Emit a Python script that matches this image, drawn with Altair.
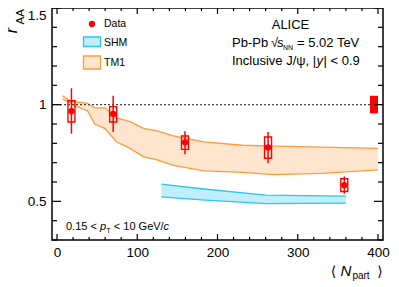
import altair as alt
import pandas as pd

# ---------------- data ----------------
npart = [18, 70, 159.5, 263, 358]
raa = [0.966, 0.952, 0.805, 0.779, 0.583]
stat_lo = [0.85, 0.859, 0.743, 0.697, 0.539]
stat_hi = [1.085, 1.046, 0.862, 0.859, 0.629]
sys_lo = [0.91, 0.91, 0.769, 0.723, 0.551]
sys_hi = [1.02, 0.99, 0.838, 0.833, 0.617]

glob_n = [390]
glob_n2 = [400]
glob_lo = [0.955]
glob_hi = [1.046]

tm1_n = [7, 16, 22, 38, 47, 60, 74, 91, 108, 125, 145, 183, 231, 270, 330, 400]
tm1_hi = [1.046, 1.02, 1.015, 1.007, 0.983, 0.983, 0.932, 0.912, 0.877, 0.864, 0.838, 0.808, 0.79, 0.786, 0.78, 0.774]
tm1_lo = [1.03, 1.01, 0.995, 0.969, 0.90, 0.876, 0.808, 0.774, 0.73, 0.714, 0.686, 0.658, 0.65, 0.638, 0.645, 0.663]

shm_n = [130, 180, 260, 360]
shm_hi = [0.589, 0.565, 0.532, 0.527]
shm_lo = [0.523, 0.508, 0.488, 0.491]

x_major = [0, 100, 200, 300, 400]
x_minor = [20, 40, 60, 80, 120, 140, 160, 180, 220, 240, 260, 280, 320, 340, 360, 380]
y_major = [0.5, 1.0, 1.5]
y_minor = [0.3, 0.4, 0.6, 0.7, 0.8, 0.9, 1.1, 1.2, 1.3, 1.4]

# ---------------- layout ----------------
W, H = 331, 232
FONT = "Liberation Sans"
RED = "#ff0000"
OR_LINE = "#ff9a3c"
OR_FILL = "#fee5cd"
CY_LINE = "#2ec4f0"
CY_FILL = "#bfeefc"

xs = alt.Scale(domain=[0, 400], nice=False, zero=False)
ys = alt.Scale(domain=[0.3, 1.5], nice=False, zero=False)

xax = alt.Axis(values=x_major, ticks=False, domain=False, grid=False, title="",
               labelFontSize=13.5, labelFont=FONT, labelColor="black", labelPadding=5,
               format="d")
yax = alt.Axis(values=y_major, ticks=False, domain=False, grid=False, title="",
               labelFontSize=13.5, labelFont=FONT, labelColor="black", labelPadding=6,
               labelFlush=True, format="~g")

pts = pd.DataFrame(dict(n=npart, r=raa, slo=stat_lo, shi=stat_hi, ylo=sys_lo, yhi=sys_hi))
tm1 = pd.DataFrame(dict(n=tm1_n, hi=tm1_hi, lo=tm1_lo))
shm = pd.DataFrame(dict(n=shm_n, hi=shm_hi, lo=shm_lo))
glob = pd.DataFrame(dict(n=glob_n, n2=glob_n2, lo=glob_lo, hi=glob_hi))

X = lambda f: alt.X(f, type="quantitative", scale=xs, axis=xax)
Y = lambda f: alt.Y(f, type="quantitative", scale=ys, axis=yax)

layers = []

# TM1 band
base_tm1 = alt.Chart(tm1)
layers.append(base_tm1.mark_area(color=OR_FILL).encode(x=X("n"), y=Y("lo"), y2="hi"))
layers.append(base_tm1.mark_line(color=OR_LINE, strokeWidth=1.3).encode(x=X("n"), y=Y("hi")))
layers.append(base_tm1.mark_line(color=OR_LINE, strokeWidth=1.3).encode(x=X("n"), y=Y("lo")))

# SHM band
base_shm = alt.Chart(shm)
layers.append(base_shm.mark_area(color=CY_FILL).encode(x=X("n"), y=Y("lo"), y2="hi"))
layers.append(base_shm.mark_line(color=CY_LINE, strokeWidth=1.3).encode(x=X("n"), y=Y("hi")))
layers.append(base_shm.mark_line(color=CY_LINE, strokeWidth=1.3).encode(x=X("n"), y=Y("lo")))

# dotted line at unity
one = pd.DataFrame(dict(v=[1.0]))
layers.append(alt.Chart(one).mark_rule(color="#444444", strokeDash=[2, 2], strokeWidth=1.3)
              .encode(y=Y("v"), x=alt.value(0), x2=alt.value(W)))

# global uncertainty box
layers.append(alt.Chart(glob).mark_rect(color=RED).encode(x=X("n"), x2="n2", y=Y("lo"), y2="hi"))

# data: sys boxes, stat bars, markers
bp = alt.Chart(pts)
layers.append(bp.mark_bar(width=7, fillOpacity=0, stroke=RED, strokeWidth=1.4)
              .encode(x=X("n"), y=Y("ylo"), y2="yhi"))
layers.append(bp.mark_rule(color=RED, strokeWidth=1.5).encode(x=X("n"), y=Y("slo"), y2="shi"))
layers.append(bp.mark_point(filled=True, color=RED, size=40, opacity=1, shape="circle")
              .encode(x=X("n"), y=Y("r")))

# inward ticks on all four sides
def yticks(vals, L):
    d = pd.DataFrame(dict(v=vals))
    c = alt.Chart(d)
    return [c.mark_rule(color="black", strokeWidth=1.2).encode(y=Y("v"), x=alt.value(0), x2=alt.value(L)),
            c.mark_rule(color="black", strokeWidth=1.2).encode(y=Y("v"), x=alt.value(W), x2=alt.value(W - L))]

def xticks(vals, L):
    d = pd.DataFrame(dict(v=vals))
    c = alt.Chart(d)
    return [c.mark_rule(color="black", strokeWidth=1.2).encode(x=X("v"), y=alt.value(H), y2=alt.value(H - L)),
            c.mark_rule(color="black", strokeWidth=1.2).encode(x=X("v"), y=alt.value(0), y2=alt.value(L))]

layers += yticks(y_major, 9) + yticks(y_minor, 5) + xticks(x_major, 6) + xticks(x_minor, 3)

one_row = alt.Data(values=[{}])

def txt(s, x, y, size, font=FONT, style="normal", align="left", angle=0, baseline="alphabetic"):
    kw = dict(align=align, baseline=baseline, fontSize=size, font=font, color="black")
    if style != "normal":
        kw["fontStyle"] = style
    if angle:
        kw["angle"] = angle
    return alt.Chart(one_row).mark_text(**kw).encode(x=alt.value(x), y=alt.value(y), text=alt.value(s))

def box(x1, x2, y1, y2, fill, stroke):
    return alt.Chart(one_row).mark_rect(fill=fill, stroke=stroke, strokeWidth=1.3).encode(
        x=alt.value(x1), x2=alt.value(x2), y=alt.value(y1), y2=alt.value(y2))

# legend
layers.append(alt.Chart(one_row).mark_point(filled=True, color=RED, size=40, opacity=1)
              .encode(x=alt.value(40), y=alt.value(16)))
layers.append(txt("Data", 52, 16, 10.5, baseline="middle"))
layers.append(box(31.5, 48.5, 29, 38.5, CY_FILL, CY_LINE))
layers.append(txt("SHM", 52, 34.5, 10.5, baseline="middle"))
layers.append(box(31.5, 48.5, 48, 61, OR_FILL, OR_LINE))
layers.append(txt("TM1", 52, 54.5, 10.5, baseline="middle"))

# header text
layers.append(txt("ALICE", 238.5, 20.6, 13, align="center"))
layers.append(txt("Pb-Pb", 180, 38.6, 13))
layers.append(txt("\u221a", 219, 38.6, 13))
layers.append(txt("s", 225, 38.6, 13, style="italic"))
layers.append(txt("NN", 231, 41.5, 7))
layers.append(txt("= 5.02 TeV", 245, 38.6, 13))
layers.append(txt("Inclusive J/\u03c8, |", 180, 56.6, 13))
layers.append(txt("y", 264.5, 56.6, 13, style="italic"))
layers.append(txt("| < 0.9", 271.5, 56.6, 13))

# kinematic range
layers.append(txt("0.15 <", 14, 222, 11))
layers.append(txt("p", 48, 222, 11, style="italic"))
layers.append(txt("T", 54.3, 225, 7.5))
layers.append(txt("< 10 GeV/", 61.8, 222, 11))
layers.append(txt("c", 111.6, 222, 11, style="italic"))

# axis titles
layers.append(txt("\u27e8", 281.5, 264, 14, font="DejaVu Sans", align="center", baseline="middle"))
layers.append(txt("N", 294, 263, 15, style="italic", align="center", baseline="middle"))
layers.append(txt("part", 309, 268, 10, align="center", baseline="middle"))
layers.append(txt("\u27e9", 328, 264, 14, font="DejaVu Sans", align="center", baseline="middle"))
layers.append(txt("r", -35, 22.5, 16, style="italic", align="center", angle=270))
layers.append(txt("AA", -28, 8.8, 11.5, align="center", angle=270))

chart = alt.layer(*layers).properties(
    width=W, height=H,
    autosize=alt.AutoSizeParams(type="none"),
    padding={"left": 44, "top": 0, "right": 8, "bottom": 45},
    background="white",
).configure_view(stroke="black", strokeWidth=1.5)

chart.save("out.html", embed_options={"renderer": "svg", "actions": False})
